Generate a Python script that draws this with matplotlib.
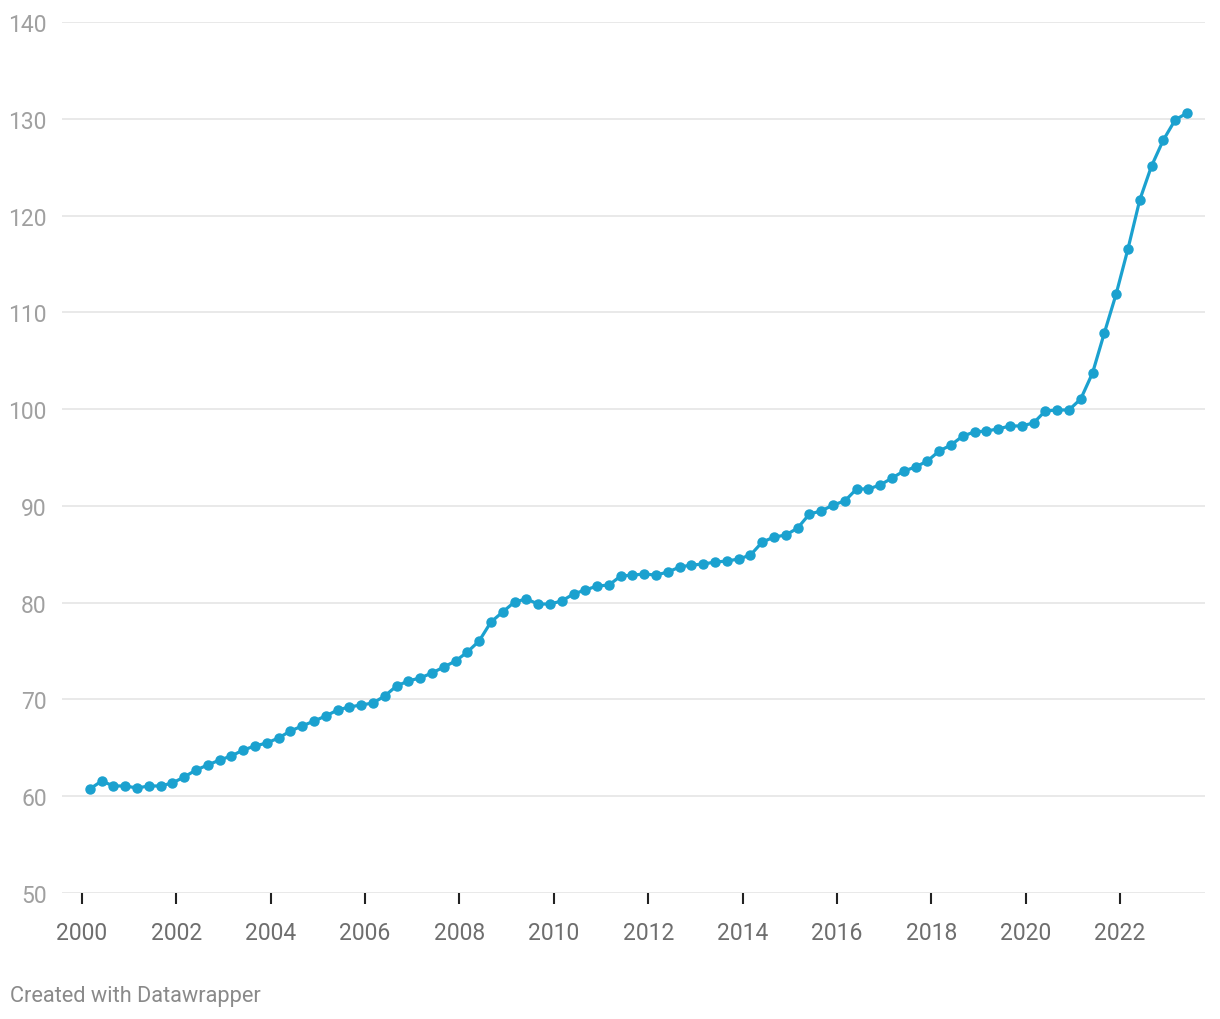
import matplotlib.pyplot as plt
import numpy as np

# quarterly index values, 2000 Q1 .. 2023 Q2
values = [60.75, 61.57, 61.06, 61.06, 60.85, 61.06, 61.06, 61.37, 61.99, 62.71,
          63.23, 63.74, 64.16, 64.78, 65.19, 65.50, 66.02, 66.74, 67.26, 67.77,
          68.29, 68.91, 69.22, 69.43, 69.63, 70.36, 71.39, 71.91, 72.22, 72.73,
          73.35, 73.97, 74.90, 76.04, 78.00, 79.04, 80.07, 80.38, 79.86, 79.86,
          80.17, 80.90, 81.31, 81.72, 81.82, 82.75, 82.85, 82.96, 82.85, 83.17,
          83.68, 83.89, 83.99, 84.20, 84.30, 84.51, 84.92, 86.26, 86.78, 86.99,
          87.71, 89.16, 89.47, 90.09, 90.51, 91.75, 91.75, 92.16, 92.88, 93.60,
          94.02, 94.64, 95.67, 96.29, 97.22, 97.64, 97.74, 97.95, 98.26, 98.26,
          98.57, 99.81, 99.91, 99.91, 101.05, 103.73, 107.87, 111.89, 116.54, 121.60,
          125.12, 127.80, 129.87, 130.60]
start_year = 2000
x_ticks = list(range(2000, 2023, 2))
y_ticks = list(range(50, 141, 10))

plt.rcParams['font.family'] = ['Roboto', 'DejaVu Sans']

# quarters plotted at the start of the third month of each quarter
dates = start_year + 1/6 + 0.25 * np.arange(len(values))

fig = plt.figure(figsize=(12.2, 10.2), dpi=100)
ax = fig.add_axes([62/1220, 1 - 894/1020, (1205-62)/1220, (894-23)/1020])

ax.plot(dates, values, color='#1ba1cf', lw=2.3, marker='o', ms=6.5,
        solid_joinstyle='round', zorder=3)

ax.set_xlim(1999.576, 2023.80)
ax.set_ylim(50, 140)
ax.set_yticks(y_ticks)
ax.set_xticks(x_ticks)
ax.grid(axis='y', color='#e3e3e3', lw=1.1)
ax.set_axisbelow(True)
for s in ax.spines.values():
    s.set_visible(False)

ax.tick_params(axis='y', length=0, pad=11, labelsize=16.5, labelcolor='#a0a0a0')
ax.tick_params(axis='x', length=8, width=1.5, color='#222222', direction='out',
               pad=12, labelsize=16.5, labelcolor='#6e6e6e')

fig.text(10/1220, 1 - 997/1020, "Created with Datawrapper", fontsize=15.7,
         color='#8a8a8a', va='center', ha='left')

fig.savefig('out.png', dpi=100)
